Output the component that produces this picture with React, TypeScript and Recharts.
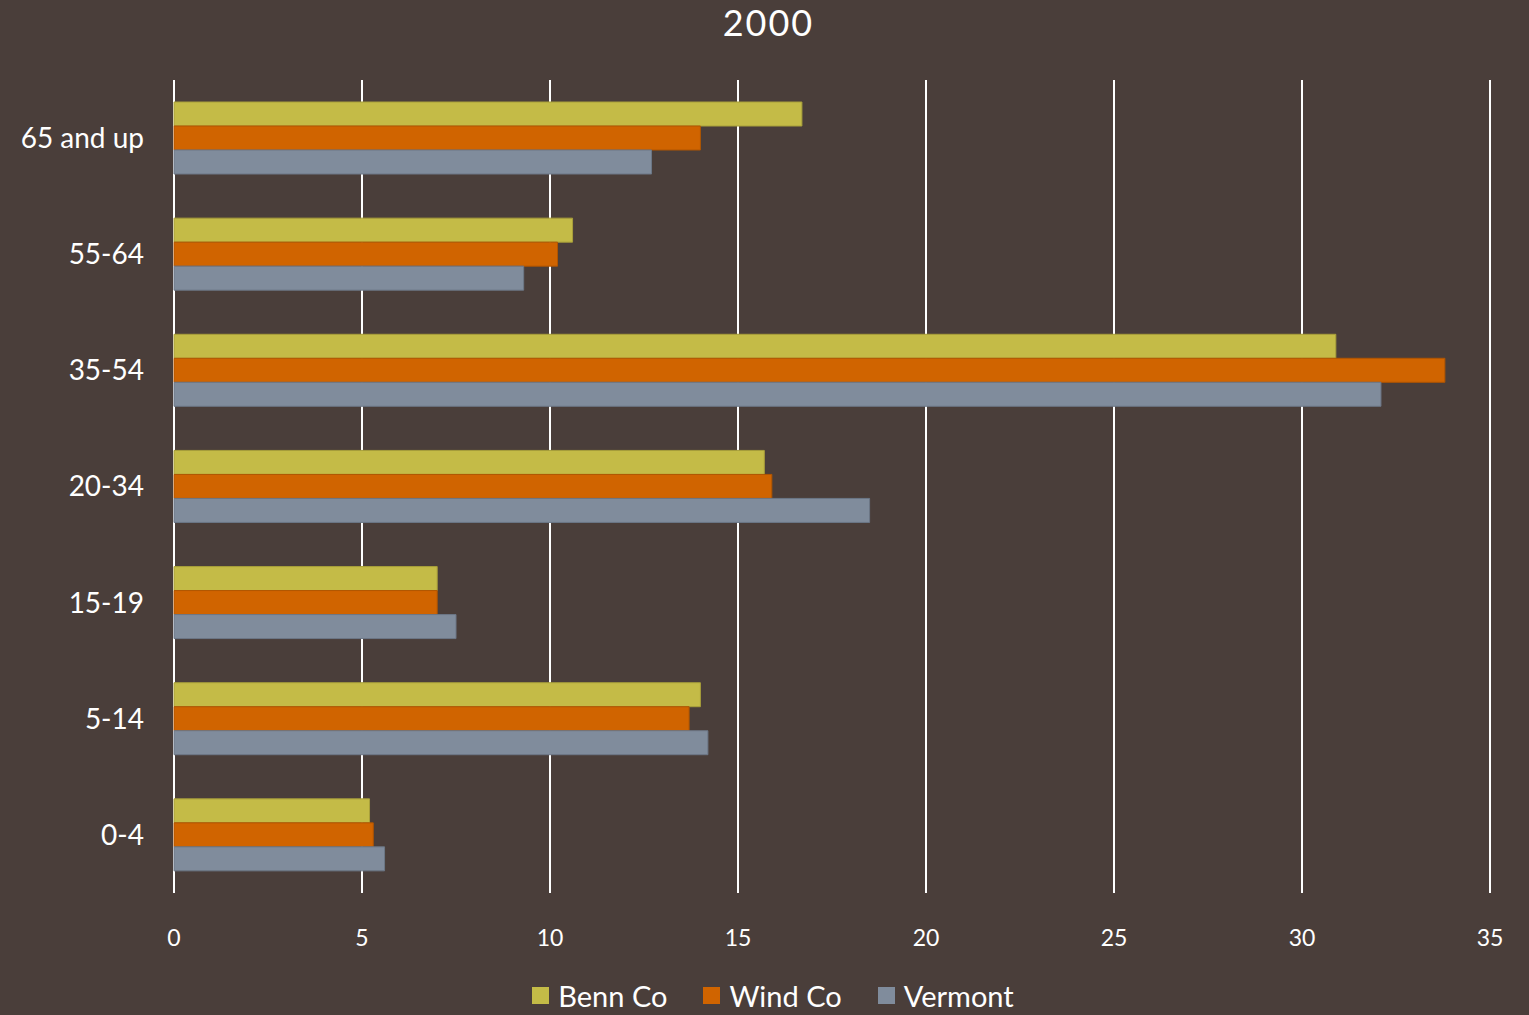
import React from 'react'
import { BarChart, Bar, XAxis, YAxis, CartesianGrid, Legend } from 'recharts'

const ageGroups = ['65 and up', '55-64', '35-54', '20-34', '15-19', '5-14', '0-4']
const bennCo = [16.7, 10.6, 30.9, 15.7, 7.0, 14.0, 5.2]
const windCo = [14.0, 10.2, 33.8, 15.9, 7.0, 13.7, 5.3]
const vermont = [12.7, 9.3, 32.1, 18.5, 7.5, 14.2, 5.6]
const xTicks = [0, 5, 10, 15, 20, 25, 30, 35]

const series = [
  { key: 'benn', name: 'Benn Co', fill: '#c4bb47', stroke: '#a89f3a' },
  { key: 'wind', name: 'Wind Co', fill: '#d06400', stroke: '#b05500' },
  { key: 'vermont', name: 'Vermont', fill: '#808c9c', stroke: '#6c7786' },
]

const data = ageGroups.map((age, i) => ({
  age,
  benn: bennCo[i],
  wind: windCo[i],
  vermont: vermont[i],
}))

const FONT = 'Lato, "Open Sans", sans-serif'

// keep legend in series order (recharts sorts it by default)
const LegendContent = () => (
  <div style={{ display: 'flex', justifyContent: 'center', gap: 36, paddingLeft: 56 }}>
    {series.map((s) => (
      <div key={s.key} style={{ display: 'flex', alignItems: 'center', gap: 9 }}>
        <span style={{ width: 17, height: 17, background: s.fill, display: 'inline-block' }} />
        <span style={{ color: '#ffffff', fontSize: 29, fontFamily: FONT }}>{s.name}</span>
      </div>
    ))}
  </div>
)

const App = () => {
  return (
    <div
      style={{
        position: 'absolute',
        top: 0,
        left: 0,
        width: 1529,
        height: 1015,
        background: '#4a3e3a',
        fontFamily: FONT,
      }}
    >
      <div
        style={{
          position: 'absolute',
          top: 0,
          left: 4,
          width: 1529,
          textAlign: 'center',
          color: '#ffffff',
          fontSize: 36,
          letterSpacing: 2,
          lineHeight: '44px',
        }}
      >
        2000
      </div>
      <BarChart
        width={1529}
        height={1015}
        data={data}
        layout="vertical"
        margin={{ top: 80, right: 39, left: 0, bottom: 0 }}
        barGap={0}
      >
        <CartesianGrid horizontal={false} stroke="#ffffff" strokeWidth={2} />
        <XAxis
          type="number"
          domain={[0, 35]}
          ticks={xTicks}
          axisLine={false}
          tickLine={false}
          height={85}
          tickMargin={31}
          tick={{ fill: '#ffffff', fontSize: 23, fontFamily: FONT }}
        />
        <YAxis
          type="category"
          dataKey="age"
          width={174}
          axisLine={false}
          tickLine={false}
          tickMargin={24}
          tick={{ fill: '#ffffff', fontSize: 28, fontFamily: FONT }}
        />
        <Legend verticalAlign="bottom" height={37} content={<LegendContent />} />
        {series.map((s) => (
          <Bar
            key={s.key}
            dataKey={s.key}
            name={s.name}
            fill={s.fill}
            stroke={s.stroke}
            strokeWidth={1}
            barSize={24}
            isAnimationActive={false}
          />
        ))}
      </BarChart>
    </div>
  )
}

export default App
